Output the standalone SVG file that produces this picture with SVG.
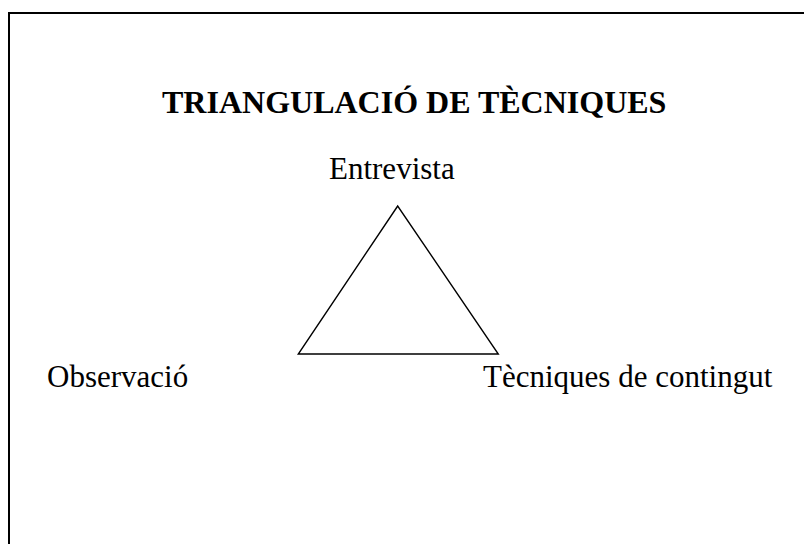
<svg xmlns="http://www.w3.org/2000/svg" width="804" height="544" viewBox="0 0 804 544">
<style>
.t{font-family:"Liberation Serif","Times New Roman",serif;fill:#000}
.title{font-size:32px;font-weight:bold}
.lbl{font-size:31px}
.edge{stroke:#000;stroke-width:1.4;fill:none;stroke-linejoin:miter}
</style>
<rect x="0" y="0" width="804" height="544" fill="#fff"/>
<path d="M9,545 V13 H805" fill="none" stroke="#000" stroke-width="2"/>
<g id="title"><text class="t title" x="162" y="113">TRIANGULACIÓ DE TÈCNIQUES</text></g>
<g id="connectors">
<path class="edge" d="M397.7,206 L298.3,354 L498.3,354 Z"/>
</g>
<g id="entrevista"><text class="t lbl" x="329" y="179">Entrevista</text></g>
<g id="observacio"><text class="t lbl" x="47" y="387">Observació</text></g>
<g id="tecniques"><text class="t lbl" x="483" y="387">Tècniques de contingut</text></g>
</svg>
